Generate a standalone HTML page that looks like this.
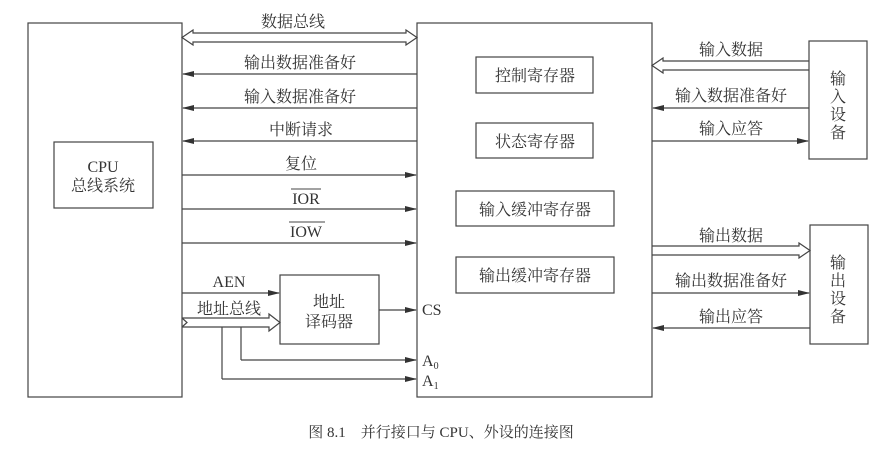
<!DOCTYPE html>
<html><head><meta charset="utf-8"><style>
body{margin:0;background:#fff}
svg text{font-family:"Liberation Serif","Noto Serif CJK SC",serif;fill:#333;font-size:16px}
</style></head><body>
<svg width="882" height="445" viewBox="0 0 882 445" xmlns="http://www.w3.org/2000/svg">
<defs>
<marker id="a" markerWidth="12" markerHeight="6" refX="11" refY="3" orient="auto" markerUnits="userSpaceOnUse"><path d="M0,0 L12,3 L0,6 Z" fill="#333"/></marker>
</defs>
<g stroke="#444" stroke-width="1.2" fill="none">
<rect x="28" y="23" width="154" height="374"/>
<rect x="417" y="23" width="235" height="374"/>
<rect x="54" y="142" width="99" height="66"/>
<rect x="280" y="275" width="99" height="69"/>
<rect x="476" y="57" width="117" height="36"/>
<rect x="476" y="123" width="117" height="35"/>
<rect x="456" y="191" width="158" height="35"/>
<rect x="456" y="257" width="158" height="36"/>
<rect x="809" y="41" width="58" height="118"/>
<rect x="810" y="225" width="58" height="119"/>
<path d="M182,37.5 L193,30 L193,33 L406,33 L406,30 L417,37.5 L406,45 L406,42 L193,42 L193,45 Z"/>
<path d="M809,61 L663,61 L663,58 L652,65.5 L663,73 L663,70 L809,70"/>
<path d="M652,246 L799,246 L799,243 L810,250.5 L799,258 L799,255 L652,255"/>
<path d="M182,318 L269,318 L269,314 L280,322.5 L269,331 L269,327 L182,327"/>
<path d="M182,318 L187,322.5 L182,327"/>
<path d="M241,327 V360 M222,327 V379"/>
</g>
<g stroke="#444" stroke-width="1.2">
<line x1="417" y1="74" x2="183" y2="74" marker-end="url(#a)"/>
<line x1="417" y1="108" x2="183" y2="108" marker-end="url(#a)"/>
<line x1="417" y1="141" x2="183" y2="141" marker-end="url(#a)"/>
<line x1="182" y1="175" x2="416" y2="175" marker-end="url(#a)"/>
<line x1="182" y1="209" x2="416" y2="209" marker-end="url(#a)"/>
<line x1="182" y1="243" x2="416" y2="243" marker-end="url(#a)"/>
<line x1="182" y1="293" x2="279" y2="293" marker-end="url(#a)"/>
<line x1="379" y1="310" x2="416" y2="310" marker-end="url(#a)"/>
<line x1="241" y1="360" x2="416" y2="360" marker-end="url(#a)"/>
<line x1="222" y1="379" x2="416" y2="379" marker-end="url(#a)"/>
<line x1="809" y1="108" x2="653" y2="108" marker-end="url(#a)"/>
<line x1="652" y1="141" x2="808" y2="141" marker-end="url(#a)"/>
<line x1="652" y1="293" x2="809" y2="293" marker-end="url(#a)"/>
<line x1="810" y1="328" x2="653" y2="328" marker-end="url(#a)"/>
</g>
<g text-anchor="middle">
<text x="293" y="27">数据总线</text>
<text x="300" y="68">输出数据准备好</text>
<text x="300" y="102">输入数据准备好</text>
<text x="301" y="135">中断请求</text>
<text x="301" y="169">复位</text>
<text x="306" y="204">IOR</text>
<text x="306" y="237">IOW</text>
<text x="103" y="172">CPU</text>
<text x="103" y="191">总线系统</text>
<text x="229" y="287">AEN</text>
<text x="229" y="314">地址总线</text>
<text x="329" y="307">地址</text>
<text x="329" y="327">译码器</text>
<text x="535" y="81">控制寄存器</text>
<text x="535" y="147">状态寄存器</text>
<text x="535" y="215">输入缓冲寄存器</text>
<text x="535" y="281">输出缓冲寄存器</text>
<text x="731" y="55">输入数据</text>
<text x="731" y="101">输入数据准备好</text>
<text x="731" y="134">输入应答</text>
<text x="731" y="241">输出数据</text>
<text x="731" y="286">输出数据准备好</text>
<text x="731" y="322">输出应答</text>
<text x="838" y="84">输</text><text x="838" y="102">入</text><text x="838" y="120">设</text><text x="838" y="138">备</text>
<text x="838" y="268">输</text><text x="838" y="286">出</text><text x="838" y="304">设</text><text x="838" y="322">备</text>
<text x="441" y="437" style="font-size:15px">图 8.1　并行接口与 CPU、外设的连接图</text>
</g>
<g stroke="#444" stroke-width="1"><line x1="291" y1="189" x2="321" y2="189"/><line x1="289" y1="222" x2="325" y2="222"/></g>
<text x="422" y="315">CS</text>
<text x="422" y="366">A<tspan font-size="10" dy="3">0</tspan></text>
<text x="422" y="386">A<tspan font-size="10" dy="3">1</tspan></text>
</svg>
</body></html>
